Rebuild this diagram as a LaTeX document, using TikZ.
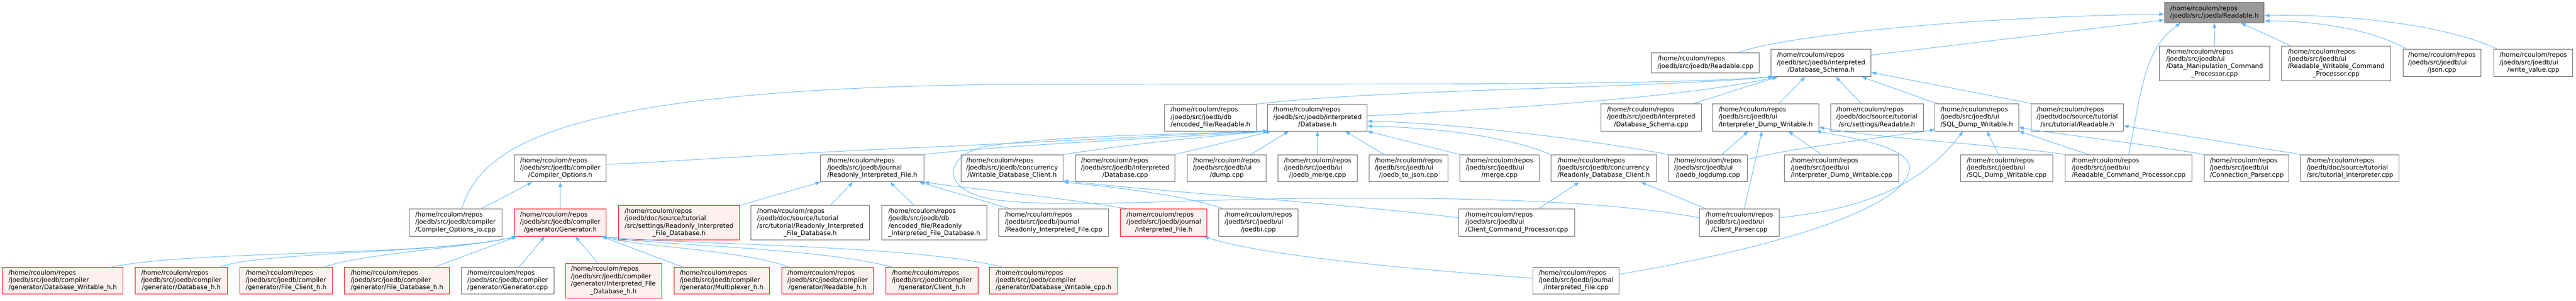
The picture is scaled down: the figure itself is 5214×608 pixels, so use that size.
\documentclass[tikz,border=0pt]{standalone}
\usepackage{fontspec}
\setmainfont{DejaVu Sans}
\usetikzlibrary{arrows.meta,calc}
\definecolor{edgec}{HTML}{63B8FF}
\definecolor{bordc}{HTML}{666666}
\definecolor{rootf}{HTML}{999999}
\definecolor{redf}{HTML}{FFF0F0}
\newcommand\rp{/home/rcoulom/repos}
\newcommand\lbl[2]{\setbox\strutbox\hbox{\vrule height10.5pt depth4.5pt width0pt}\def\arraystretch{1}\begin{tabular}{@{}l@{}}#1\\\multicolumn{1}{@{}c@{}}{#2}\end{tabular}}
\newcommand\nb[7]{\node[#6,minimum width={#4-#2},minimum height={#5-#3}] (#1) at ({(#2+#4)/2},{(#3+#5)/2}) {#7};}
\tikzset{
  nbox/.style={draw=bordc, fill=white, line width=1pt, inner sep=0pt, font=\fontsize{12.8}{15}\selectfont, text=black},
  rbox/.style={nbox, draw=red, fill=redf},
  gbox/.style={nbox, fill=rootf},
  dep/.style={draw=edgec, line width=1pt, -{Triangle[length=10pt,width=7pt]}}
}
\begin{document}
\begin{tikzpicture}[x=1pt,y=-1pt]
\fill[white] (0,0) rectangle (5214,608);
\useasboundingbox (0,0) rectangle (5214,608);
% row 1
\nb{root}{4381}{5}{4583}{46}{gbox}{\lbl{\rp}{/joedb/src/joedb/Readable.h}}
% row 2
\nb{readcpp}{3343}{107}{3561}{148}{nbox}{\lbl{\rp}{/joedb/src/joedb/Readable.cpp}}
\nb{schemah}{3585}{100}{3787}{155}{nbox}{\lbl{\rp\\/joedb/src/joedb/interpreted}{/Database\_Schema.h}}
\nb{dmcp}{4371}{93}{4594}{163}{nbox}{\lbl{\rp\\/joedb/src/joedb/ui\\/Data\_Manipulation\_Command}{\_Processor.cpp}}
\nb{rwcp}{4618}{93}{4839}{163}{nbox}{\lbl{\rp\\/joedb/src/joedb/ui\\/Readable\_Writable\_Command}{\_Processor.cpp}}
\nb{json}{4864}{100}{5021}{155}{nbox}{\lbl{\rp\\/joedb/src/joedb/ui}{/json.cpp}}
\nb{writeval}{5048}{100}{5207}{155}{nbox}{\lbl{\rp\\/joedb/src/joedb/ui}{/write\_value.cpp}}
% row 3
\nb{encread}{2357}{211}{2543}{265}{nbox}{\lbl{\rp\\/joedb/src/joedb/db}{/encoded\_file/Readable.h}}
\nb{dbh}{2566}{211}{2767}{265}{nbox}{\lbl{\rp\\/joedb/src/joedb/interpreted}{/Database.h}}
\nb{schemacpp}{3240}{210}{3444}{265}{nbox}{\lbl{\rp\\/joedb/src/joedb/interpreted}{/Database\_Schema.cpp}}
\nb{idwh}{3466}{210}{3682}{265}{nbox}{\lbl{\rp\\/joedb/src/joedb/ui}{/Interpreter\_Dump\_Writable.h}}
\nb{setread}{3705}{210}{3893}{265}{nbox}{\lbl{\rp\\/joedb/doc/source/tutorial}{/src/settings/Readable.h}}
\nb{sqlh}{3916}{210}{4086}{265}{nbox}{\lbl{\rp\\/joedb/src/joedb/ui}{/SQL\_Dump\_Writable.h}}
\nb{tutread}{4111}{210}{4298}{265}{nbox}{\lbl{\rp\\/joedb/doc/source/tutorial}{/src/tutorial/Readable.h}}
% row 4
\nb{copth}{1041}{313}{1227}{368}{nbox}{\lbl{\rp\\/joedb/src/joedb/compiler}{/Compiler\_Options.h}}
\nb{rifh}{1661}{313}{1870}{368}{nbox}{\lbl{\rp\\/joedb/src/joedb/journal}{/Readonly\_Interpreted\_File.h}}
\nb{wdch}{1945}{313}{2152}{368}{nbox}{\lbl{\rp\\/joedb/src/joedb/concurrency}{/Writable\_Database\_Client.h}}
\nb{dbcpp}{2177}{313}{2378}{368}{nbox}{\lbl{\rp\\/joedb/src/joedb/interpreted}{/Database.cpp}}
\nb{dump}{2403}{313}{2563}{368}{nbox}{\lbl{\rp\\/joedb/src/joedb/ui}{/dump.cpp}}
\nb{jmerge}{2587}{313}{2747}{368}{nbox}{\lbl{\rp\\/joedb/src/joedb/ui}{/joedb\_merge.cpp}}
\nb{j2json}{2771}{313}{2931}{368}{nbox}{\lbl{\rp\\/joedb/src/joedb/ui}{/joedb\_to\_json.cpp}}
\nb{merge}{2955}{313}{3115}{368}{nbox}{\lbl{\rp\\/joedb/src/joedb/ui}{/merge.cpp}}
\nb{rdch}{3139}{313}{3353}{368}{nbox}{\lbl{\rp\\/joedb/src/joedb/concurrency}{/Readonly\_Database\_Client.h}}
\nb{logdump}{3377}{313}{3537}{368}{nbox}{\lbl{\rp\\/joedb/src/joedb/ui}{/joedb\_logdump.cpp}}
\nb{idwcpp}{3612}{313}{3843}{368}{nbox}{\lbl{\rp\\/joedb/src/joedb/ui}{/Interpreter\_Dump\_Writable.cpp}}
\nb{sqlcpp}{3968}{313}{4155}{368}{nbox}{\lbl{\rp\\/joedb/src/joedb/ui}{/SQL\_Dump\_Writable.cpp}}
\nb{rcp}{4180}{313}{4437}{368}{nbox}{\lbl{\rp\\/joedb/src/joedb/ui}{/Readable\_Command\_Processor.cpp}}
\nb{connp}{4462}{313}{4633}{368}{nbox}{\lbl{\rp\\/joedb/src/joedb/ui}{/Connection\_Parser.cpp}}
\nb{tutint}{4657}{313}{4856}{368}{nbox}{\lbl{\rp\\/joedb/doc/source/tutorial}{/src/tutorial\_interpreter.cpp}}
% row 5
\nb{coptio}{828}{423}{1016}{478}{nbox}{\lbl{\rp\\/joedb/src/joedb/compiler}{/Compiler\_Options\_io.cpp}}
\nb{genh}{1041}{423}{1227}{478}{rbox}{\lbl{\rp\\/joedb/src/joedb/compiler}{/generator/Generator.h}}
\nb{setrifd}{1252}{416}{1497}{485}{rbox}{\lbl{\rp\\/joedb/doc/source/tutorial\\/src/settings/Readonly\_Interpreted}{\_File\_Database.h}}
\nb{tutrifd}{1520}{416}{1760}{485}{nbox}{\lbl{\rp\\/joedb/doc/source/tutorial\\/src/tutorial/Readonly\_Interpreted}{\_File\_Database.h}}
\nb{encrifd}{1785}{416}{1997}{485}{nbox}{\lbl{\rp\\/joedb/src/joedb/db\\/encoded\_file/Readonly}{\_Interpreted\_File\_Database.h}}
\nb{rifcpp}{2021}{423}{2244}{478}{nbox}{\lbl{\rp\\/joedb/src/joedb/journal}{/Readonly\_Interpreted\_File.cpp}}
\nb{ifh}{2268}{423}{2443}{478}{rbox}{\lbl{\rp\\/joedb/src/joedb/journal}{/Interpreted\_File.h}}
\nb{joedbi}{2467}{423}{2627}{478}{nbox}{\lbl{\rp\\/joedb/src/joedb/ui}{/joedbi.cpp}}
\nb{ccp}{2953}{423}{3187}{478}{nbox}{\lbl{\rp\\/joedb/src/joedb/ui}{/Client\_Command\_Processor.cpp}}
\nb{clientp}{3440}{423}{3601}{478}{nbox}{\lbl{\rp\\/joedb/src/joedb/ui}{/Client\_Parser.cpp}}
% row 6
\nb{g1}{5}{541}{249}{595}{rbox}{\lbl{\rp\\/joedb/src/joedb/compiler}{/generator/Database\_Writable\_h.h}}
\nb{g2}{274}{541}{460}{595}{rbox}{\lbl{\rp\\/joedb/src/joedb/compiler}{/generator/Database\_h.h}}
\nb{g3}{485}{541}{673}{595}{rbox}{\lbl{\rp\\/joedb/src/joedb/compiler}{/generator/File\_Client\_h.h}}
\nb{g4}{697}{541}{910}{595}{rbox}{\lbl{\rp\\/joedb/src/joedb/compiler}{/generator/File\_Database\_h.h}}
\nb{g5}{934}{541}{1121}{595}{nbox}{\lbl{\rp\\/joedb/src/joedb/compiler}{/generator/Generator.cpp}}
\nb{g6}{1144}{533}{1339}{603}{rbox}{\lbl{\rp\\/joedb/src/joedb/compiler\\/generator/Interpreted\_File}{\_Database\_h.h}}
\nb{g7}{1364}{541}{1557}{595}{rbox}{\lbl{\rp\\/joedb/src/joedb/compiler}{/generator/Multiplexer\_h.h}}
\nb{g8}{1582}{541}{1768}{595}{rbox}{\lbl{\rp\\/joedb/src/joedb/compiler}{/generator/Readable\_h.h}}
\nb{g9}{1793}{541}{1980}{595}{rbox}{\lbl{\rp\\/joedb/src/joedb/compiler}{/generator/Client\_h.h}}
\nb{g10}{2003}{541}{2262}{595}{rbox}{\lbl{\rp\\/joedb/src/joedb/compiler}{/generator/Database\_Writable\_cpp.h}}
\nb{ifcpp}{3103}{541}{3277}{595}{nbox}{\lbl{\rp\\/joedb/src/joedb/journal}{/Interpreted\_File.cpp}}
% ---- edges to root
\draw[dep] ($(readcpp.north east)+(-43,0)$) .. controls (3600,75) and (3950,35) .. ($(root.west)+(0,3)$);
\draw[dep] ($(schemah.north east)+(0,12)$) -- ($(root.south west)+(0,-6)$);
\draw[dep] (dmcp.north) -- (root.south);
\draw[dep] ($(rwcp.north west)+(19,0)$) -- ($(root.south east)+(-48,0)$);
\draw[dep] ($(json.north west)+(8,0)$) .. controls (4800,58) and (4680,42) .. ($(root.south east)+(0,-4)$);
\draw[dep] ($(writeval.north west)+(8,0)$) .. controls (4950,50) and (4750,28) .. ($(root.east)+(0,6)$);
\draw[dep] ($(rcp.north west)+(129,0)$) .. controls (4335,180) and (4340,100) .. ($(root.south west)+(33,0)$);
% ---- edges to Database_Schema.h
\draw[dep] ($(dbh.north east)+(0,24)$) .. controls (3000,222) and (3400,200) .. ($(schemah.south west)+(12,0)$);
\draw[dep] ($(schemacpp.north east)+(-17,0)$) -- ($(schemah.south west)+(14,0)$);
\draw[dep] ($(idwh.north west)+(135,0)$) -- ($(schemah.south west)+(69,0)$);
\draw[dep] ($(setread.north west)+(63,0)$) -- ($(schemah.south west)+(131,0)$);
\draw[dep] ($(sqlh.north west)+(5,0)$) -- ($(schemah.south east)+(-19,0)$);
\draw[dep] ($(tutread.north west)+(2,0)$) -- ($(schemah.south east)+(0,-9)$);
\draw[dep] (encread.north east) .. controls (2800,180) and (3300,180) .. ($(schemah.south west)+(7,0)$);
\draw[dep] ($(coptio.north west)+(107,0)$) .. controls (975,290) and (1150,180) .. (2024,171) .. controls (2800,168) and (3300,175) .. ($(schemah.south west)+(4,0)$);
% ---- edges to Database.h
\draw[dep] ($(copth.north east)+(0,20)$) .. controls (1350,328) and (1550,312) .. (1870,298) .. controls (2100,288) and (2400,272) .. ($(dbh.south west)+(0,-1)$);
\draw[dep] (rifh.north east) .. controls (2050,292) and (2350,280) .. ($(dbh.south west)+(2,0)$);
\draw[dep] ($(clientp.west)+(0,-10)$) .. controls (3250,405) and (2950,398) .. (2600,402) .. controls (2350,406) and (2150,420) .. (2020,405) .. controls (1905,390) and (1905,320) .. (1990,297) .. controls (2150,272) and (2400,272) .. ($(dbh.south west)+(4,0)$);
\draw[dep] (wdch.north east) .. controls (2300,290) and (2450,275) .. ($(dbh.south west)+(6,0)$);
\draw[dep] (dbcpp.north east) -- ($(dbh.south west)+(8,0)$);
\draw[dep] ($(dump.north west)+(129,0)$) -- ($(dbh.south west)+(43,0)$);
\draw[dep] (jmerge.north) -- (dbh.south);
\draw[dep] ($(j2json.north west)+(31,0)$) -- ($(dbh.south east)+(-45,0)$);
\draw[dep] (merge.north west) -- (dbh.south east);
\draw[dep] (rdch.north west) .. controls (3050,275) and (2900,258) .. ($(dbh.east)+(0,17)$);
\draw[dep] (logdump.north west) .. controls (3200,280) and (2950,250) .. ($(dbh.east)+(0,7)$);
% ---- edges to Readonly_Interpreted_File.h
\draw[dep] (setrifd.north east) -- (rifh.south west);
\draw[dep] ($(tutrifd.north west)+(161,0)$) -- ($(rifh.south west)+(66,0)$);
\draw[dep] ($(encrifd.north west)+(66,0)$) -- ($(rifh.south west)+(141,0)$);
\draw[dep] ($(rifcpp.north west)+(25,0)$) -- ($(rifh.south east)+(-10,0)$);
\draw[dep] ($(ifh.north west)+(15,0)$) .. controls (2150,400) and (1950,380) .. (rifh.south east);
% ---- edges to Compiler_Options.h
\draw[dep] ($(coptio.north west)+(146,0)$) -- ($(copth.south west)+(37,0)$);
\draw[dep] (genh.north) -- (copth.south);
% ---- edges to Generator.h
\draw[dep] ($(g1.north west)+(219,0)$) .. controls (400,505) and (850,520) .. ($(genh.south west)+(6,0)$);
\draw[dep] ($(g2.north west)+(170,0)$) .. controls (520,510) and (900,512) .. ($(genh.south west)+(6,0)$);
\draw[dep] ($(g3.north west)+(172,0)$) .. controls (720,515) and (950,500) .. ($(genh.south west)+(6,0)$);
\draw[dep] ($(g4.north west)+(182,0)$) -- ($(genh.south west)+(6,0)$);
\draw[dep] ($(g5.north west)+(117,0)$) -- ($(genh.south west)+(62,0)$);
\draw[dep] ($(g6.north west)+(67,0)$) -- ($(genh.south west)+(124,0)$);
\draw[dep] ($(g7.north west)+(19,0)$) -- ($(genh.south east)+(-10,0)$);
\draw[dep] ($(g8.north west)+(16,0)$) .. controls (1500,505) and (1300,500) .. ($(genh.south east)+(-10,0)$);
\draw[dep] ($(g9.north west)+(14,0)$) .. controls (1650,500) and (1350,498) .. ($(genh.south east)+(-10,0)$);
\draw[dep] ($(g10.north west)+(27,0)$) .. controls (1850,495) and (1400,496) .. ($(genh.south east)+(-10,0)$);
% ---- Interpreted_File.h
\draw[dep] ($(ifcpp.west)+(0,-5)$) .. controls (2800,540) and (2550,515) .. ($(ifh.south east)+(-7,0)$);
% ---- Interpreter_Dump_Writable.h
\draw[dep] ($(logdump.north west)+(109,0)$) -- ($(idwh.south west)+(73,0)$);
\draw[dep] ($(clientp.north west)+(91,0)$) -- ($(idwh.south west)+(101,0)$);
\draw[dep] ($(idwcpp.north west)+(75,0)$) -- ($(idwh.south west)+(154,0)$);
\draw[dep] (rcp.north west) .. controls (4050,293) and (3800,280) .. ($(idwh.east)+(0,20)$);
\draw[dep] ($(ifcpp.east)+(0,-13)$) .. controls (3600,500) and (3860,420) .. (3865,340) .. controls (3866,300) and (3760,280) .. ($(idwh.south east)+(-7,0)$);
% ---- SQL_Dump_Writable.h
\draw[dep] ($(logdump.north east)+(0,10)$) .. controls (3620,300) and (3800,280) .. ($(sqlh.south west)+(1,-3)$);
\draw[dep] ($(clientp.east)+(0,-10)$) .. controls (3800,420) and (3900,360) .. ($(sqlh.south west)+(58,0)$);
\draw[dep] ($(sqlcpp.north west)+(78,0)$) -- ($(sqlh.south west)+(106,0)$);
\draw[dep] ($(rcp.north west)+(48,0)$) -- (sqlh.south east);
\draw[dep] (connp.north west) .. controls (4300,285) and (4150,270) .. ($(sqlh.east)+(0,20)$);
% ---- tutorial/Readable.h
\draw[dep] (tutint.north west) -- ($(tutread.east)+(0,17)$);
% ---- Readonly_Database_Client.h
\draw[dep] ($(ccp.north west)+(161,0)$) -- ($(rdch.south west)+(58,0)$);
\draw[dep] ($(clientp.north west)+(14,0)$) -- ($(rdch.south east)+(-32,0)$);
% ---- Writable_Database_Client.h
\draw[dep] ($(joedbi.north west)+(10,0)$) .. controls (2400,395) and (2250,378) .. (wdch.south east);
\draw[dep] ($(ccp.west)+(0,-10)$) .. controls (2700,410) and (2350,388) .. ($(wdch.south east)+(0,-3)$);
\end{tikzpicture}
\end{document}
